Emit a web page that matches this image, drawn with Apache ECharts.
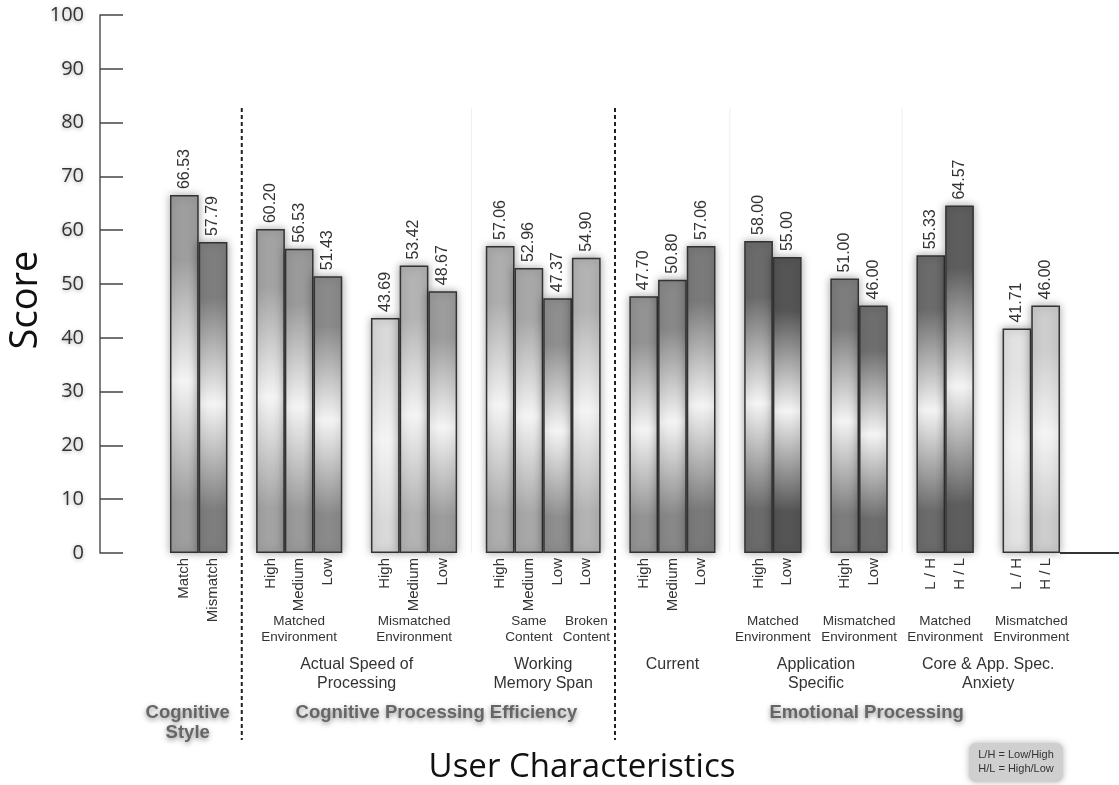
<!DOCTYPE html>
<html>
<head>
<meta charset="utf-8">
<script src="https://cdn.jsdelivr.net/npm/echarts@6/dist/echarts.min.js"></script>
<style>html,body{margin:0;padding:0;background:#fff;}#main{width:1119px;height:785px;}</style>
</head>
<body>
<div id="main"></div>
<script>
// ---- data ----
const barLabels = ['Match','Mismatch','High','Medium','Low','High','Medium','Low','High','Medium','Low','Low','High','Medium','Low','High','Low','High','Low','L / H','H / L','L / H','H / L'];
const scores = [66.53,57.79,60.20,56.53,51.43,43.69,53.42,48.67,57.06,52.96,47.37,54.90,47.70,50.80,57.06,58.00,55.00,51.00,46.00,55.33,64.57,41.71,46.00];
const subgroupLabels = ['', 'Matched\nEnvironment', 'Mismatched\nEnvironment', 'Same\nContent', 'Broken\nContent', '', 'Matched\nEnvironment', 'Mismatched\nEnvironment', 'Matched\nEnvironment', 'Mismatched\nEnvironment'];
const subgroupBarCounts = [2,3,3,3,1,3,2,2,2,2];
const groupLabels = ['', 'Actual Speed of\nProcessing', 'Working\nMemory Span', 'Current', 'Application\nSpecific', 'Core & App. Spec.\nAnxiety'];
const groupOfSubgroup = [0,1,1,2,2,3,4,4,5,5];
const sectionLabels = ['Cognitive\nStyle', 'Cognitive Processing Efficiency', 'Emotional Processing'];
const sectionOfGroup = [0,1,1,2,2,2];
const yTicks = [0,10,20,30,40,50,60,70,80,90,100];
const yTitle = 'Score';
const xTitle = 'User Characteristics';
const noteLines = ['L/H = Low/High', 'H/L = High/Low'];

// ---- styles (separate from data) ----
const barShades = ['#9e9e9e','#7e7e7e','#a3a3a3','#9a9a9a','#8a8a8a','#d9d9d9','#b3b3b3','#9c9c9c','#adadad','#a8a8a8','#8e8e8e','#b3b3b3','#939393','#888888','#7a7a7a','#6b6b6b','#555555','#7d7d7d','#6e6e6e','#6b6b6b','#5e5e5e','#e2e2e2','#cdcdcd'];
const tightBefore = [false,false,false,false,true,false,false,false,false,false];
const sectionShift = [-11, 8, 22];

// ---- build category slots ----
const cats = [], vals = [];
const subFirst = [], subLast = [];
let b = 0;
subgroupBarCounts.forEach((n, s) => {
  if (s > 0 && !tightBefore[s]) { cats.push(''); vals.push('-'); }
  subFirst.push(cats.length);
  for (let k = 0; k < n; k++) {
    cats.push(barLabels[b]);
    const base = barShades[b];
    vals.push({
      value: scores[b],
      itemStyle: {
        color: new echarts.graphic.LinearGradient(0, 0, 0, 1, [
          {offset: 0, color: base},
          {offset: 0.18, color: base},
          {offset: 0.52, color: '#f4f4f4'},
          {offset: 0.86, color: base},
          {offset: 1, color: base}
        ])
      }
    });
    b++;
  }
  subLast.push(cats.length - 1);
});

const chart = echarts.init(document.getElementById('main'), null, {renderer: 'canvas'});
chart.setOption({
  backgroundColor: '#ffffff',
  animation: false,
  grid: {left: 170, right: 59, top: 15, bottom: 232},
  xAxis: {
    type: 'category',
    data: cats,
    axisLine: {show: false},
    axisTick: {show: false},
    axisLabel: {interval: 0, rotate: 90, margin: 5, fontSize: 15, color: '#333', fontFamily: 'Liberation Sans'}
  },
  yAxis: {
    type: 'value', min: yTicks[0], max: yTicks[yTicks.length - 1], interval: yTicks[1] - yTicks[0],
    offset: 70,
    axisLine: {show: true, lineStyle: {color: '#555', width: 1.5}},
    axisTick: {show: true, inside: true, length: 23, lineStyle: {color: '#444', width: 1.5}},
    splitLine: {show: false},
    axisLabel: {fontSize: 20, color: '#333', fontFamily: 'Open Sans', margin: 16,
      textShadowColor: 'rgba(0,0,0,0.35)', textShadowBlur: 4, textShadowOffsetY: 1}
  },
  series: [{
    type: 'bar',
    data: vals,
    barCategoryGap: '0%',
    itemStyle: {borderColor: '#333', borderWidth: 1.5, shadowBlur: 8, shadowColor: 'rgba(0,0,0,0.35)'},
    label: {
      show: true, position: 'top', rotate: 90, align: 'left', verticalAlign: 'middle', distance: 6,
      fontSize: 16, color: '#333', fontFamily: 'Liberation Sans',
      formatter: p => Number(p.value).toFixed(2)
    }
  }]
});

// ---- decorations positioned from the axes ----
const cx = i => chart.convertToPixel({xAxisIndex: 0}, i);
const bw = cx(1) - cx(0);
const y0 = chart.convertToPixel({yAxisIndex: 0}, 0);
const left = i => cx(i) - bw / 2, right = i => cx(i) + bw / 2;
const g = [];

function txt(x, y, text, size, opts) {
  g.push(Object.assign({type: 'text', x: x, y: y, silent: true, z: 10,
    style: Object.assign({text: text, fontSize: size, fontFamily: 'Liberation Sans', fill: '#333', align: 'center', verticalAlign: 'top'}, opts || {})}));
}

// subgroup labels
subgroupLabels.forEach((t, s) => {
  if (!t) return;
  txt((left(subFirst[s]) + right(subLast[s])) / 2, 613, t, 13.5, {lineHeight: 16});
});
// group ranges
const gFirst = [], gLast = [];
groupOfSubgroup.forEach((gi, s) => {
  if (gFirst[gi] === undefined) gFirst[gi] = subFirst[s];
  gLast[gi] = subLast[s];
});
groupLabels.forEach((t, gi) => {
  if (!t) return;
  txt((left(gFirst[gi]) + right(gLast[gi])) / 2, 655, t, 16, {lineHeight: 19});
});
// section ranges
const sFirst = [], sLast = [];
sectionOfGroup.forEach((si, gi) => {
  if (sFirst[si] === undefined) sFirst[si] = gFirst[gi];
  sLast[si] = gLast[gi];
});
sectionLabels.forEach((t, si) => {
  txt((left(sFirst[si]) + right(sLast[si])) / 2 + sectionShift[si], 703, t, 18.5,
    {lineHeight: 20, fontWeight: 'bold', fill: '#666', textShadowColor: 'rgba(0,0,0,0.45)', textShadowBlur: 5, textShadowOffsetY: 2});
});
// dashed section separators
for (let si = 1; si < sectionLabels.length; si++) {
  const x = cx(sFirst[si] - 1);
  g.push({type: 'line', silent: true, z: 5, shape: {x1: x, y1: 108, x2: x, y2: 740},
    style: {stroke: '#222', lineWidth: 2, lineDash: [4, 3]}});
}
// faint group separators
for (let gi = 1; gi < groupLabels.length; gi++) {
  if (sectionOfGroup[gi] !== sectionOfGroup[gi - 1]) continue;
  const x = cx(gFirst[gi] - 1);
  g.push({type: 'line', silent: true, z: 0, shape: {x1: x, y1: 108, x2: x, y2: y0},
    style: {stroke: '#eeeeee', lineWidth: 1}});
}
// baseline to the right of the last bar
g.push({type: 'line', silent: true, z: 5, shape: {x1: right(cats.length - 1), y1: y0, x2: 1119, y2: y0},
  style: {stroke: '#333', lineWidth: 2}});
// axis titles
g.push({type: 'text', x: 26, y: 300, rotation: Math.PI / 2, silent: true,
  style: {text: yTitle, fontSize: 38, fontFamily: 'Open Sans', fill: '#111', align: 'center', verticalAlign: 'middle'}});
g.push({type: 'text', x: 582, y: 768, silent: true,
  style: {text: xTitle, fontSize: 33, fontFamily: 'Open Sans', fill: '#111', align: 'center', verticalAlign: 'middle'}});
// note box
g.push({type: 'rect', silent: true, z: 10, shape: {x: 969, y: 743, width: 94, height: 39, r: 7},
  style: {fill: '#cfcfcf', shadowBlur: 6, shadowColor: 'rgba(0,0,0,0.3)'}});
txt(1016, 748, noteLines.join('\n'), 11, {lineHeight: 14, z: 11});
g[g.length - 1].z = 11;

chart.setOption({graphic: g});
</script>
</body>
</html>
